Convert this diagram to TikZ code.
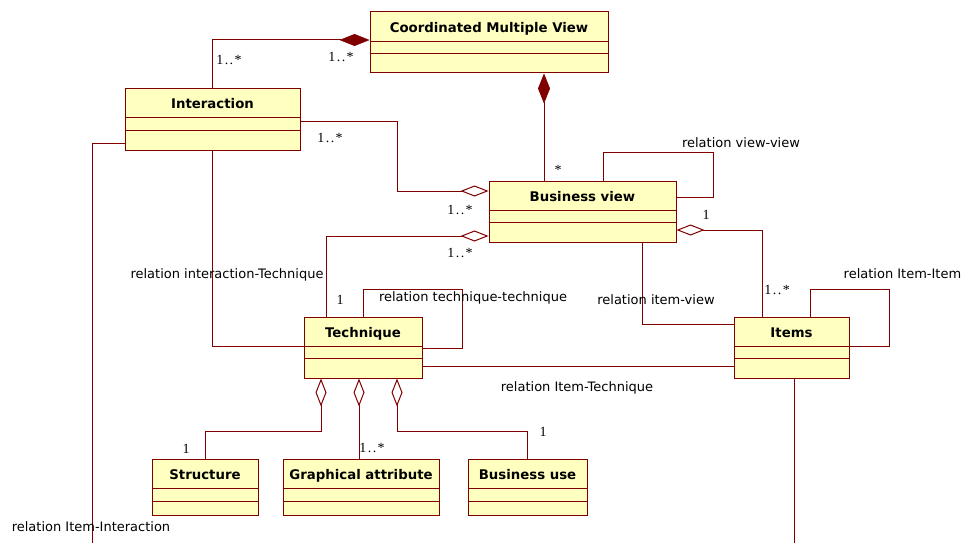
\documentclass[tikz,border=0pt]{standalone}
\usepackage{fontspec}
\setmainfont{DejaVu Sans}
\newfontfamily\multfont{Liberation Serif}
\usetikzlibrary{arrows.meta,calc}
\definecolor{dkred}{HTML}{800000}
\definecolor{clsfill}{HTML}{FFFFC0}
\newcommand{\mult}[1]{{\multfont\fontsize{14}{14}\selectfont #1}}
\newcommand{\mm}{1\kern1.5pt.\kern1.5pt.\kern1.5pt*}
\tikzset{
  cls/.style={draw=dkred, fill=clsfill, line width=1pt, inner sep=0pt, rectangle},
  clstitle/.style={font=\fontsize{13.3}{14}\selectfont\bfseries, inner sep=0pt, text=black, anchor=base},
  lnk/.style={draw=dkred, line width=1pt},
  comp/.style={lnk, -{Diamond[length=30pt,width=12pt,fill=dkred,line width=0.6pt]}},
  agg/.style={lnk, -{Diamond[length=28pt,width=11pt,fill=white,line width=1pt]}},
  lbl/.style={font=\fontsize{13}{14}\selectfont, inner sep=0pt, text=black},
  mlbl/.style={inner sep=0pt, text=black},
}
\newcommand{\umlclass}[8]{%
  \node[cls, minimum width=#4, minimum height=#5] (#1) at (#2,#3) {};
  \node[clstitle] (#1-t) at ($(#1.north)+(0,21)$) {#8};
  \draw[dkred, line width=1pt] ($(#1.north west)+(0,#6)$) -- ($(#1.north east)+(0,#6)$);
  \draw[dkred, line width=1pt] ($(#1.north west)+(0,#7)$) -- ($(#1.north east)+(0,#7)$);
}
\begin{document}
\begin{tikzpicture}[x=1pt,y=-1pt]
\useasboundingbox (0,0) rectangle (961,543);
\fill[white] (0,0) rectangle (961,543);

% classes: name, cx, cy, w, h, sep1 offset, sep2 offset, title
\umlclass{cmv}{489}{42.5}{238}{61}{30}{42}{Coordinated Multiple View}
\umlclass{inter}{212.5}{119}{175}{62}{30}{43}{Interaction}
\umlclass{bv}{582.5}{211.5}{187}{61}{30}{42}{Business view}
\umlclass{tech}{363}{347.5}{118}{61}{30}{42}{Technique}
\umlclass{items}{791.5}{347.5}{115}{61}{30}{42}{Items}
\umlclass{struct}{205}{487}{106}{56}{30}{43}{Structure}
\umlclass{graph}{361}{487}{156}{56}{30}{43}{Graphical attribute}
\umlclass{buse}{527.5}{487}{119}{56}{30}{43}{Business use}

\coordinate (bl) at (92,543);
\coordinate (br) at (794,543);

% connectors
\draw[comp] (inter.north) |- ([yshift=2.5pt]cmv.west);
\draw[comp] ([xshift=-38.5pt]bv.north) -- ([xshift=55pt]cmv.south);
\draw[agg] ([yshift=-2pt]inter.east) -- ++(97,0) |- ([yshift=20.5pt]bv.west);
\draw[agg] ([xshift=-37pt]tech.north) |- ([yshift=-24.5pt]bv.west);
\draw[lnk] ([xshift=20.5pt]bv.north) -- ++(0,-28) -- ++(110,0) |- ([yshift=14.5pt]bv.east);
\draw[agg] ([xshift=-29.5pt]items.north) |- ([yshift=-18.5pt]bv.east);
\draw[lnk] ([xshift=59.5pt]bv.south) |- ([yshift=23.5pt]items.west);
\draw[lnk] ([xshift=18.5pt]items.north) -- ++(0,-27) -- ++(79,0) |- ([yshift=1.5pt]items.east);
\draw[lnk] ([yshift=-18.5pt]tech.east) -- ([yshift=-18.5pt]items.west);
\draw[lnk] (tech.north) -- ++(0,-27) -- ++(99,0) |- ([yshift=-0.5pt]tech.east);
\draw[lnk] (inter.south) |- ([yshift=1.5pt]tech.west);
\draw[lnk] ([yshift=-24pt]inter.west) -| (bl);
\draw[lnk] ([xshift=2.5pt]items.south) -- (br);
\draw[agg] (struct.north) -- ++(0,-27) -| ([xshift=-42pt]tech.south);
\draw[agg] ([xshift=-2pt]graph.north) -- ([xshift=-4pt]tech.south);
\draw[agg] (buse.north) -- ++(0,-27) -| ([xshift=34pt]tech.south);

% multiplicities
\node[mlbl] (m1) at (229,60) {\mult{\mm}};
\node[mlbl] (m2) at (341,57) {\mult{\mm}};
\node[mlbl] (m3) at (558,170) {\mult{*}};
\node[mlbl] (m4) at (330,138) {\mult{\mm}};
\node[mlbl] (m5) at (460,210) {\mult{\mm}};
\node[mlbl] (m6) at (460,253) {\mult{\mm}};
\node[mlbl] (m7) at (340,300) {\mult{1}};
\node[mlbl] (m8) at (706,215) {\mult{1}};
\node[mlbl] (m9) at (777,290) {\mult{\mm}};
\node[mlbl] (m10) at (186,449) {\mult{1}};
\node[mlbl] (m11) at (372,448) {\mult{\mm}};
\node[mlbl] (m12) at (543,432) {\mult{1}};

% relation labels
\node[lbl] (r1) at (741,143) {relation view-view};
\node[lbl] (r2) at (656,300) {relation item-view};
\node[lbl, anchor=west] (r3) at (843.5,274) {relation Item-Item};
\node[lbl] (r4) at (577,388) {relation Item-Technique};
\node[lbl] (r5) at (473,298) {relation technique-technique};
\node[lbl] (r6) at (227,275) {relation interaction-Technique};
\node[lbl] (r7) at (91,527) {relation Item-Interaction};
\end{tikzpicture}
\end{document}
